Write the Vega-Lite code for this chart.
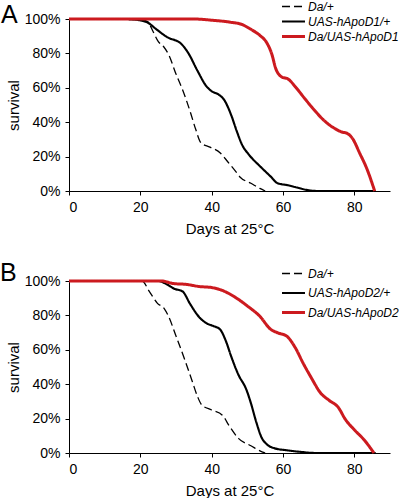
{
  "$schema": "https://vega.github.io/schema/vega-lite/v6.json",
  "background": "white",
  "padding": {"left": 0, "top": 0, "right": 0, "bottom": 0},
  "config": {
    "font": "Liberation Sans",
    "view": {"stroke": null},
    "axis": {
      "grid": false,
      "domainColor": "black",
      "tickColor": "black",
      "labelColor": "black",
      "titleColor": "black",
      "labelFontSize": 14,
      "titleFontSize": 15,
      "titleFontWeight": "normal",
      "tickSize": 4,
      "labelPadding": 5
    },
    "legend": {"padding": 0}
  },
  "datasets": {
    "curves": [
      {"p":"A","g":"Da/+","d":0,"s":100},
      {"p":"A","g":"Da/+","d":20,"s":99.6},
      {"p":"A","g":"Da/+","d":22,"s":98.5},
      {"p":"A","g":"Da/+","d":23.5,"s":93},
      {"p":"A","g":"Da/+","d":25,"s":87},
      {"p":"A","g":"Da/+","d":26.5,"s":84},
      {"p":"A","g":"Da/+","d":28,"s":79},
      {"p":"A","g":"Da/+","d":30,"s":68},
      {"p":"A","g":"Da/+","d":32,"s":58},
      {"p":"A","g":"Da/+","d":34,"s":46},
      {"p":"A","g":"Da/+","d":35.5,"s":36},
      {"p":"A","g":"Da/+","d":37,"s":28},
      {"p":"A","g":"Da/+","d":39.5,"s":25.5},
      {"p":"A","g":"Da/+","d":42.5,"s":22},
      {"p":"A","g":"Da/+","d":44.5,"s":17},
      {"p":"A","g":"Da/+","d":46.5,"s":12},
      {"p":"A","g":"Da/+","d":48,"s":8},
      {"p":"A","g":"Da/+","d":51,"s":4.5},
      {"p":"A","g":"Da/+","d":53.5,"s":1.5},
      {"p":"A","g":"Da/+","d":55,"s":0},

      {"p":"A","g":"UAS-hApoD1/+","d":0,"s":100},
      {"p":"A","g":"UAS-hApoD1/+","d":16,"s":100},
      {"p":"A","g":"UAS-hApoD1/+","d":20,"s":99.2},
      {"p":"A","g":"UAS-hApoD1/+","d":22,"s":98},
      {"p":"A","g":"UAS-hApoD1/+","d":24.5,"s":94},
      {"p":"A","g":"UAS-hApoD1/+","d":27.5,"s":89.5},
      {"p":"A","g":"UAS-hApoD1/+","d":31.5,"s":85.5},
      {"p":"A","g":"UAS-hApoD1/+","d":33.5,"s":80},
      {"p":"A","g":"UAS-hApoD1/+","d":36,"s":70},
      {"p":"A","g":"UAS-hApoD1/+","d":38.5,"s":61},
      {"p":"A","g":"UAS-hApoD1/+","d":40,"s":58},
      {"p":"A","g":"UAS-hApoD1/+","d":42,"s":56},
      {"p":"A","g":"UAS-hApoD1/+","d":43.5,"s":53},
      {"p":"A","g":"UAS-hApoD1/+","d":45.5,"s":44},
      {"p":"A","g":"UAS-hApoD1/+","d":47,"s":35},
      {"p":"A","g":"UAS-hApoD1/+","d":48.5,"s":27},
      {"p":"A","g":"UAS-hApoD1/+","d":50.5,"s":21},
      {"p":"A","g":"UAS-hApoD1/+","d":53.5,"s":14.5},
      {"p":"A","g":"UAS-hApoD1/+","d":56.5,"s":8.5},
      {"p":"A","g":"UAS-hApoD1/+","d":58.5,"s":4.5},
      {"p":"A","g":"UAS-hApoD1/+","d":61,"s":3.5},
      {"p":"A","g":"UAS-hApoD1/+","d":64,"s":2},
      {"p":"A","g":"UAS-hApoD1/+","d":67,"s":0.5},
      {"p":"A","g":"UAS-hApoD1/+","d":70,"s":0},
      {"p":"A","g":"UAS-hApoD1/+","d":86,"s":0},

      {"p":"A","g":"Da/UAS-hApoD1","d":0,"s":100},
      {"p":"A","g":"Da/UAS-hApoD1","d":35,"s":100},
      {"p":"A","g":"Da/UAS-hApoD1","d":40,"s":99.3},
      {"p":"A","g":"Da/UAS-hApoD1","d":45,"s":98.2},
      {"p":"A","g":"Da/UAS-hApoD1","d":48.5,"s":96.8},
      {"p":"A","g":"Da/UAS-hApoD1","d":51,"s":94},
      {"p":"A","g":"Da/UAS-hApoD1","d":53.5,"s":90.5},
      {"p":"A","g":"Da/UAS-hApoD1","d":55.5,"s":86},
      {"p":"A","g":"Da/UAS-hApoD1","d":56.8,"s":80},
      {"p":"A","g":"Da/UAS-hApoD1","d":58,"s":71},
      {"p":"A","g":"Da/UAS-hApoD1","d":59.5,"s":66.5},
      {"p":"A","g":"Da/UAS-hApoD1","d":61.5,"s":65},
      {"p":"A","g":"Da/UAS-hApoD1","d":63.5,"s":60.5},
      {"p":"A","g":"Da/UAS-hApoD1","d":66,"s":54},
      {"p":"A","g":"Da/UAS-hApoD1","d":68.8,"s":47},
      {"p":"A","g":"Da/UAS-hApoD1","d":71.5,"s":41},
      {"p":"A","g":"Da/UAS-hApoD1","d":74,"s":37},
      {"p":"A","g":"Da/UAS-hApoD1","d":76.5,"s":34.3},
      {"p":"A","g":"Da/UAS-hApoD1","d":78,"s":33.5},
      {"p":"A","g":"Da/UAS-hApoD1","d":79.5,"s":30.5},
      {"p":"A","g":"Da/UAS-hApoD1","d":81.5,"s":22},
      {"p":"A","g":"Da/UAS-hApoD1","d":83.5,"s":13},
      {"p":"A","g":"Da/UAS-hApoD1","d":85.7,"s":0},

      {"p":"B","g":"Da/+","d":0,"s":100},
      {"p":"B","g":"Da/+","d":20.5,"s":100},
      {"p":"B","g":"Da/+","d":22.5,"s":94},
      {"p":"B","g":"Da/+","d":24.8,"s":87},
      {"p":"B","g":"Da/+","d":26.7,"s":84},
      {"p":"B","g":"Da/+","d":28,"s":79},
      {"p":"B","g":"Da/+","d":30,"s":68},
      {"p":"B","g":"Da/+","d":32.5,"s":54},
      {"p":"B","g":"Da/+","d":34.5,"s":42},
      {"p":"B","g":"Da/+","d":36,"s":33},
      {"p":"B","g":"Da/+","d":37.2,"s":28},
      {"p":"B","g":"Da/+","d":40,"s":25},
      {"p":"B","g":"Da/+","d":43,"s":22},
      {"p":"B","g":"Da/+","d":45,"s":15.5},
      {"p":"B","g":"Da/+","d":47.5,"s":8.5},
      {"p":"B","g":"Da/+","d":51,"s":4.2},
      {"p":"B","g":"Da/+","d":54.3,"s":0.5},
      {"p":"B","g":"Da/+","d":55,"s":0},

      {"p":"B","g":"UAS-hApoD2/+","d":0,"s":100},
      {"p":"B","g":"UAS-hApoD2/+","d":25,"s":100},
      {"p":"B","g":"UAS-hApoD2/+","d":27.5,"s":98},
      {"p":"B","g":"UAS-hApoD2/+","d":29.5,"s":95.5},
      {"p":"B","g":"UAS-hApoD2/+","d":31.8,"s":94},
      {"p":"B","g":"UAS-hApoD2/+","d":34,"s":86.5},
      {"p":"B","g":"UAS-hApoD2/+","d":36.5,"s":79},
      {"p":"B","g":"UAS-hApoD2/+","d":38.5,"s":75.5},
      {"p":"B","g":"UAS-hApoD2/+","d":40.5,"s":73.8},
      {"p":"B","g":"UAS-hApoD2/+","d":42.3,"s":72},
      {"p":"B","g":"UAS-hApoD2/+","d":44,"s":65},
      {"p":"B","g":"UAS-hApoD2/+","d":45.5,"s":56},
      {"p":"B","g":"UAS-hApoD2/+","d":47.5,"s":45.5},
      {"p":"B","g":"UAS-hApoD2/+","d":49.7,"s":37},
      {"p":"B","g":"UAS-hApoD2/+","d":51,"s":29},
      {"p":"B","g":"UAS-hApoD2/+","d":52.5,"s":18},
      {"p":"B","g":"UAS-hApoD2/+","d":54,"s":9},
      {"p":"B","g":"UAS-hApoD2/+","d":55.5,"s":5},
      {"p":"B","g":"UAS-hApoD2/+","d":57.7,"s":2.7},
      {"p":"B","g":"UAS-hApoD2/+","d":61,"s":1.6},
      {"p":"B","g":"UAS-hApoD2/+","d":64.7,"s":0.7},
      {"p":"B","g":"UAS-hApoD2/+","d":69.5,"s":0},
      {"p":"B","g":"UAS-hApoD2/+","d":86,"s":0},

      {"p":"B","g":"Da/UAS-hApoD2","d":0,"s":100},
      {"p":"B","g":"Da/UAS-hApoD2","d":26,"s":100},
      {"p":"B","g":"Da/UAS-hApoD2","d":29,"s":98.6},
      {"p":"B","g":"Da/UAS-hApoD2","d":33,"s":98},
      {"p":"B","g":"Da/UAS-hApoD2","d":36.5,"s":96.8},
      {"p":"B","g":"Da/UAS-hApoD2","d":40,"s":96.2},
      {"p":"B","g":"Da/UAS-hApoD2","d":43,"s":94.5},
      {"p":"B","g":"Da/UAS-hApoD2","d":47,"s":90},
      {"p":"B","g":"Da/UAS-hApoD2","d":50,"s":85.5},
      {"p":"B","g":"Da/UAS-hApoD2","d":53.5,"s":79.5},
      {"p":"B","g":"Da/UAS-hApoD2","d":56.5,"s":72},
      {"p":"B","g":"Da/UAS-hApoD2","d":58.6,"s":69.8},
      {"p":"B","g":"Da/UAS-hApoD2","d":61,"s":68},
      {"p":"B","g":"Da/UAS-hApoD2","d":63.5,"s":61},
      {"p":"B","g":"Da/UAS-hApoD2","d":65.7,"s":52},
      {"p":"B","g":"Da/UAS-hApoD2","d":68,"s":43.5},
      {"p":"B","g":"Da/UAS-hApoD2","d":70.5,"s":35},
      {"p":"B","g":"Da/UAS-hApoD2","d":73,"s":30.5},
      {"p":"B","g":"Da/UAS-hApoD2","d":75.5,"s":26.5},
      {"p":"B","g":"Da/UAS-hApoD2","d":77.5,"s":19.5},
      {"p":"B","g":"Da/UAS-hApoD2","d":80,"s":13.5},
      {"p":"B","g":"Da/UAS-hApoD2","d":82.8,"s":7.5},
      {"p":"B","g":"Da/UAS-hApoD2","d":85.5,"s":0}
    ]
  },
  "data": {"name": "curves"},
  "spacing": 25,
  "resolve": {"scale": {"color": "independent", "strokeDash": "independent", "strokeWidth": "independent"}},
  "vconcat": [
    {
      "width": 321,
      "height": 172,
      "title": {"text": "A", "orient": "none", "anchor": "start", "fontSize": 25, "fontWeight": "normal", "baseline": "alphabetic", "align": "left", "offset": 0, "dx": -68, "dy": 4},
      "transform": [{"filter": "datum.p === 'A'"}],
      "mark": {"type": "line", "interpolate": "monotone"},
      "encoding": {
        "x": {"field": "d", "type": "quantitative", "scale": {"domain": [0, 90], "nice": false}, "axis": {"values": [0, 20, 40, 60, 80], "title": "Days at 25°C", "titlePadding": 7}},
        "y": {"field": "s", "type": "quantitative", "scale": {"domain": [0, 100]}, "axis": {"values": [0, 20, 40, 60, 80, 100], "labelExpr": "datum.value + '%'", "title": "survival", "titlePadding": 3}},
        "color": {"field": "g", "type": "nominal", "scale": {"domain": ["Da/+", "UAS-hApoD1/+", "Da/UAS-hApoD1"], "range": ["black", "black", "#cc1a1f"]},
          "legend": {"title": null, "orient": "none", "legendX": 217, "legendY": -19, "labelFontSize": 12, "labelFontStyle": "italic", "labelColor": "black", "symbolType": "M-2,0H2", "symbolSize": 132, "rowPadding": 1.5, "labelOffset": 7}},
        "strokeDash": {"field": "g", "type": "nominal", "scale": {"domain": ["Da/+", "UAS-hApoD1/+", "Da/UAS-hApoD1"], "range": [[8, 4], [1, 0], [1, 0]]}},
        "strokeWidth": {"field": "g", "type": "nominal", "scale": {"domain": ["Da/+", "UAS-hApoD1/+", "Da/UAS-hApoD1"], "range": [1.3, 3, 3]}}
      }
    },
    {
      "width": 321,
      "height": 172,
      "title": {"text": "B", "orient": "none", "anchor": "start", "fontSize": 25, "fontWeight": "normal", "baseline": "alphabetic", "align": "left", "offset": 0, "dx": -69, "dy": 0},
      "transform": [{"filter": "datum.p === 'B'"}],
      "mark": {"type": "line", "interpolate": "monotone"},
      "encoding": {
        "x": {"field": "d", "type": "quantitative", "scale": {"domain": [0, 90], "nice": false}, "axis": {"values": [0, 20, 40, 60, 80], "title": "Days at 25°C", "titlePadding": 7}},
        "y": {"field": "s", "type": "quantitative", "scale": {"domain": [0, 100]}, "axis": {"values": [0, 20, 40, 60, 80, 100], "labelExpr": "datum.value + '%'", "title": "survival", "titlePadding": 3}},
        "color": {"field": "g", "type": "nominal", "scale": {"domain": ["Da/+", "UAS-hApoD2/+", "Da/UAS-hApoD2"], "range": ["black", "black", "#cc1a1f"]},
          "legend": {"title": null, "orient": "none", "legendX": 217, "legendY": -14, "labelFontSize": 12, "labelFontStyle": "italic", "labelColor": "black", "symbolType": "M-2,0H2", "symbolSize": 132, "rowPadding": 6, "labelOffset": 7}},
        "strokeDash": {"field": "g", "type": "nominal", "scale": {"domain": ["Da/+", "UAS-hApoD2/+", "Da/UAS-hApoD2"], "range": [[8, 4], [1, 0], [1, 0]]}},
        "strokeWidth": {"field": "g", "type": "nominal", "scale": {"domain": ["Da/+", "UAS-hApoD2/+", "Da/UAS-hApoD2"], "range": [1.3, 3, 3]}}
      }
    }
  ]
}
